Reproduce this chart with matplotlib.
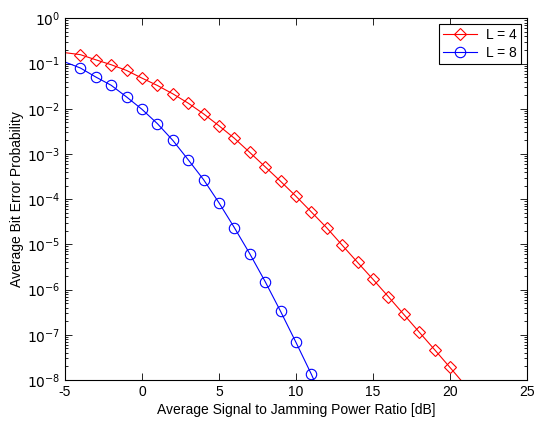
#!/usr/bin/env python3
"""Bit error probability vs signal-to-jamming ratio, L = 4 and L = 8."""

import matplotlib

matplotlib.use("Agg")
import matplotlib.pyplot as plt
from matplotlib.ticker import NullFormatter

plt.rcParams["font.family"] = ["Liberation Sans", "DejaVu Sans"]
plt.rcParams["axes.unicode_minus"] = False

# Marker points
snr_l4 = [-4, -3, -2, -1, 0, 1, 2, 3, 4, 5, 6, 7, 8, 9, 10, 11, 12,
          13, 14, 15, 16, 17, 18, 19, 20]
ber_l4 = [0.157, 0.121, 0.094, 0.0703, 0.0475, 0.0327, 0.0214, 0.0133,
          0.0077, 0.0042, 0.00222, 0.00108, 5.2e-4, 2.48e-4, 1.16e-4,
          5.2e-5, 2.32e-5, 9.6e-6, 4.0e-6, 1.69e-6, 6.97e-7, 2.83e-7,
          1.15e-7, 4.7e-8, 1.9e-8]

snr_l8 = [-4, -3, -2, -1, 0, 1, 2, 3, 4, 5, 6, 7, 8, 9, 10, 11]
ber_l8 = [0.0796, 0.0503, 0.033, 0.0182, 0.0097, 0.00468, 0.0020,
          7.45e-4, 2.7e-4, 8.3e-5, 2.34e-5, 6.2e-6, 1.5e-6, 3.3e-7,
          6.8e-8, 1.34e-8]

# The curves run a little past the markers at both ends
line_l4_x = [-5] + snr_l4 + [21]
line_l4_y = [0.174] + ber_l4 + [7.6e-9]
line_l8_x = [-5] + snr_l8 + [12]
line_l8_y = [0.108] + ber_l8 + [2.3e-9]

x_ticks = [-5, 0, 5, 10, 15, 20, 25]
y_decades = list(range(-8, 1))

fig = plt.figure(figsize=(5.39, 4.24), dpi=100)
ax = fig.add_axes([0.1206, 0.1038, 0.857, 0.853])

ax.semilogy(line_l4_x, line_l4_y, color="red", lw=0.8)
ax.semilogy(line_l8_x, line_l8_y, color="blue", lw=0.8)
ax.semilogy(snr_l4, ber_l4, ls="none", marker="D", ms=6.3, mfc="none",
            mec="red", mew=0.8)
ax.semilogy(snr_l8, ber_l8, ls="none", marker="o", ms=7.5, mfc="none",
            mec="blue", mew=0.8)

# Legend proxies
h4, = ax.plot([], [], color="red", lw=0.8, marker="D", ms=6.3,
              mfc="none", mec="red", mew=0.8, label="L = 4")
h8, = ax.plot([], [], color="blue", lw=0.8, marker="o", ms=7.5,
              mfc="none", mec="blue", mew=0.8, label="L = 8")
leg = ax.legend(handles=[h4, h8], loc="upper right", fontsize=10,
                fancybox=False, framealpha=1, edgecolor="black",
                borderaxespad=0.4, handlelength=2.4, borderpad=0.3,
                labelspacing=0.3, handletextpad=0.7)
leg.get_frame().set_linewidth(0.8)

ax.set_xlim(-5, 25)
ax.set_ylim(1e-8, 1e0)
ax.set_xticks(x_ticks)
ax.set_yticks([10.0 ** k for k in y_decades])
ax.set_yticklabels([f"$10^{{{k}}}$" for k in y_decades])
ax.set_yticks([m * 10.0 ** k for k in y_decades[:-1] for m in range(2, 10)],
              minor=True)
ax.yaxis.set_minor_formatter(NullFormatter())

ax.tick_params(which="both", direction="in", top=True, right=True,
               labelsize=10, width=0.6)
ax.tick_params(which="major", length=5)
ax.tick_params(which="minor", length=2.5)
for s in ax.spines.values():
    s.set_linewidth(0.8)

ax.set_xlabel("Average Signal to Jamming Power Ratio [dB]", fontsize=10,
              labelpad=3)
ax.set_ylabel("Average Bit Error Probability", fontsize=10, labelpad=2)

fig.savefig("out.png", dpi=100)
